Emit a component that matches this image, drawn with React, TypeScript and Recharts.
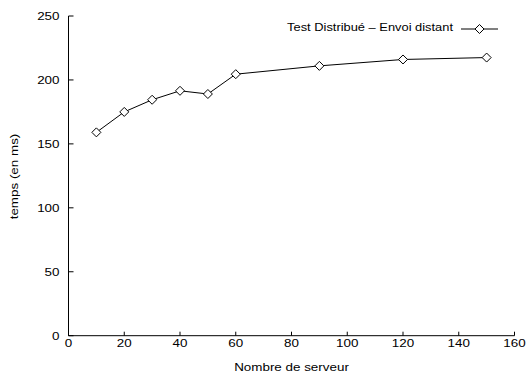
import { LineChart, Line, XAxis, YAxis } from "recharts";

// number of servers (x) and measured time in ms (y)
const servers = [10, 20, 30, 40, 50, 60, 90, 120, 150];
const times = [159, 175, 184.5, 191.5, 189, 204.5, 211, 216, 217.5];

const xTicks = [0, 20, 40, 60, 80, 100, 120, 140, 160];
const yTicks = [0, 50, 100, 150, 200, 250];

const seriesName = "Test Distribué – Envoi distant";
const xLabel = "Nombre de serveur";
const yLabel = "temps (en ms)";

const data = servers.map((s, i) => ({ servers: s, temps: times[i] }));

const FONT = "'Liberation Sans', Arial, Helvetica, sans-serif";
const STRETCH = 1.22; // gnuplot text is a bit wider than Arial

const Txt = ({ x, y, anchor, rotate, stretch = STRETCH, children }: any) => (
  <g transform={`translate(${x},${y})${rotate ? " rotate(-90)" : ""} scale(${stretch},1)`}>
    <text x={0} y={0} textAnchor={anchor} fontFamily={FONT} fontSize={11} fill="#000">
      {children}
    </text>
  </g>
);

const Diamond = ({ cx, cy }: any) => {
  if (cx == null || cy == null) return null;
  const r = 4.5;
  return (
    <path
      d={`M${cx},${cy - r}L${cx + r},${cy}L${cx},${cy + r}L${cx - r},${cy}Z`}
      fill="#fff"
      stroke="#000"
      strokeWidth={1}
    />
  );
};

// ticks point inward like gnuplot
const BottomTick = ({ x, y, payload }: any) => (
  <g>
    <line x1={x} y1={y} x2={x} y2={y - 4} stroke="#000" />
    <Txt x={x} y={y + 11} anchor="middle">{payload.value}</Txt>
  </g>
);
const TopTick = ({ x, y }: any) => <line x1={x} y1={y} x2={x} y2={y + 4} stroke="#000" />;
const LeftTick = ({ x, y, payload }: any) => (
  <g>
    <line x1={x} y1={y} x2={x + 5} y2={y} stroke="#000" />
    <Txt x={x - 9} y={y + 4} anchor="end">{payload.value}</Txt>
  </g>
);
const RightTick = ({ x, y }: any) => <line x1={x} y1={y} x2={x - 5} y2={y} stroke="#000" />;

// gnuplot style key in the top right corner
const Key = () => (
  <g>
    <Txt x={453} y={31} anchor="end" stretch={1.17}>{seriesName}</Txt>
    <line x1={461} y1={29} x2={498} y2={29} stroke="#000" />
    <Diamond cx={479.5} cy={29} />
  </g>
);

export default function App() {
  return (
    <div style={{ position: "absolute", left: 0, top: 0, width: 529, height: 374, background: "#fff" }}>
      <LineChart width={529} height={374} data={data} margin={{ top: 16, right: 14.5, bottom: 0, left: 0 }}>
        <XAxis
          dataKey="servers"
          type="number"
          domain={[0, 160]}
          ticks={xTicks}
          interval={0}
          height={38.3}
          tickSize={0}
          tickMargin={0}
          tickLine={false}
          axisLine={{ stroke: "#000" }}
          tick={<BottomTick />}
        />
        <XAxis
          xAxisId="top"
          orientation="top"
          dataKey="servers"
          type="number"
          domain={[0, 160]}
          ticks={xTicks}
          interval={0}
          height={0}
          tickSize={0}
          tickMargin={0}
          tickLine={false}
          axisLine={{ stroke: "#000" }}
          tick={<TopTick />}
        />
        <YAxis
          type="number"
          domain={[0, 250]}
          ticks={yTicks}
          interval={0}
          width={68.5}
          tickSize={0}
          tickMargin={0}
          tickLine={false}
          axisLine={{ stroke: "#000" }}
          tick={<LeftTick />}
        />
        <YAxis
          yAxisId="right"
          orientation="right"
          type="number"
          domain={[0, 250]}
          ticks={yTicks}
          interval={0}
          width={0}
          tickSize={0}
          tickMargin={0}
          tickLine={false}
          axisLine={{ stroke: "#000" }}
          tick={<RightTick />}
        />
        <Line
          dataKey="temps"
          name={seriesName}
          stroke="#000"
          strokeWidth={1}
          isAnimationActive={false}
          dot={(p: any) => <Diamond key={p.index} cx={p.cx} cy={p.cy} />}
          activeDot={false}
        />
        <Txt x={291.5} y={371} anchor="middle">{xLabel}</Txt>
        <Txt x={18} y={176.5} anchor="middle" rotate>{yLabel}</Txt>
        <Key />
      </LineChart>
    </div>
  );
}
